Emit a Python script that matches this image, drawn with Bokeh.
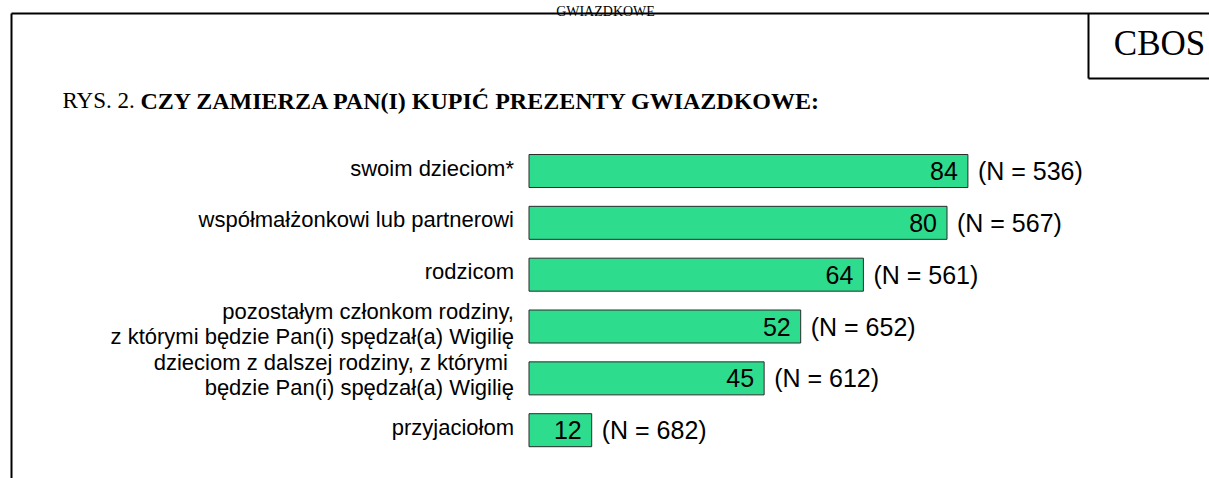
from bokeh.plotting import figure
from bokeh.models import Range1d, ColumnDataSource
from bokeh.core.properties import value
from bokeh.embed import file_html
from bokeh.resources import INLINE

# ---- data ----
categories = [
    "swoim dzieciom*",
    "współmałżonkowi lub partnerowi",
    "rodzicom",
    "pozostałym członkom rodziny,\nz którymi będzie Pan(i) spędzał(a) Wigilię",
    "dzieciom z dalszej rodziny, z którymi \nbędzie Pan(i) spędzał(a) Wigilię",
    "przyjaciołom",
]
values = [84, 80, 64, 52, 45, 12]
n_values = [536, 567, 561, 652, 612, 682]
header_text = "GWIAZDKOWE"
title_prefix = "RYS. 2. "
title_main = "CZY ZAMIERZA PAN(I) KUPIĆ PREZENTY GWIAZDKOWE:"
source_label = "CBOS"

# ---- layout constants (pixels of the picture) ----
W, H = 1209, 478
OFF = 0
X0_PX = 528.5           # where value 0 sits
PX_PER_UNIT = 5.225
Y0_PX = 170.5           # centre of first bar
ROW_PX = 51.84          # distance between bars
BAR_PX = 33

def X(px):
    return (px - X0_PX) / PX_PER_UNIT

def Y(py):
    return (py - Y0_PX) / ROW_PX

p = figure(
    width=W, height=H,
    x_range=Range1d(X(OFF), X(OFF + W)),
    y_range=Range1d(Y(OFF + H), Y(OFF)),
    output_backend="svg", toolbar_location=None,
    min_border=0, outline_line_color=None,
)
p.axis.visible = False
p.grid.visible = False
p.background_fill_color = "white"
p.border_fill_color = "white"

idx = list(range(len(categories)))
src = ColumnDataSource(dict(
    y=idx,
    cat=categories,
    val=values,
    val_txt=[str(v) for v in values],
    n_txt=[f"(N = {n})" for n in n_values],
    zero=[0] * len(values),
))

p.hbar(y="y", left="zero", right="val", height=BAR_PX / ROW_PX, source=src,
       fill_color="#2EDC8E", line_color="#2b2b2b", line_width=1)

sans = value("Liberation Sans")
serif = value("Liberation Serif")

p.text(x="val", y="y", text="val_txt", source=src, x_offset=-10,
       text_align="right", text_baseline="middle", text_font=sans,
       text_font_size="25px", text_color="black")
p.text(x="val", y="y", text="n_txt", source=src, x_offset=10,
       text_align="left", text_baseline="middle", text_font=sans,
       text_font_size="25px", text_color="black")
p.text(x="zero", y="y", text="cat", source=src, x_offset=-15, y_offset=-3,
       text_align="right", text_baseline="middle", text_font=sans,
       text_font_size="22px", text_line_height=1.0, text_color="black")

# small running header at the very top
p.text(x=[X(605)], y=[Y(11)], text=[header_text], text_align="center",
       text_baseline="alphabetic", text_font=serif, text_font_size="14px",
       text_color="black")

# title
p.text(x=[X(62)], y=[Y(100)], text=[title_prefix], text_align="left",
       text_baseline="middle", text_font=serif, text_font_size="23px",
       text_color="black")
p.text(x=[X(140)], y=[Y(100)], text=[title_main], text_align="left",
       text_baseline="middle", text_font=serif, text_font_size="24px",
       text_font_style="bold", text_color="black")

# CBOS box
p.text(x=[X(1159)], y=[Y(43)], text=[source_label], text_align="center",
       text_baseline="middle", text_font=serif, text_font_size="35px",
       text_color="black")

# frame lines
p.segment(x0=[X(11), X(11), X(1088), X(1088)],
          y0=[Y(13), Y(13), Y(13), Y(78)],
          x1=[X(1215), X(11), X(1088), X(1215)],
          y1=[Y(13), Y(490), Y(78), Y(78)],
          line_color="black", line_width=2)

open("out.html", "w").write(file_html(p, INLINE))
